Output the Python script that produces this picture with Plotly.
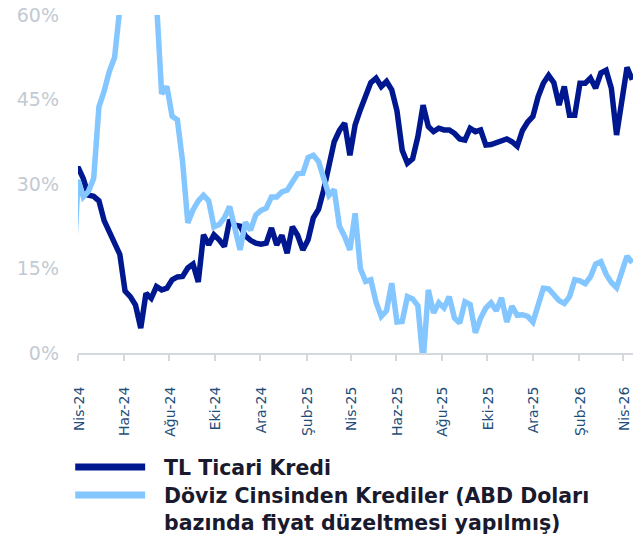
import pandas as pd
import plotly.graph_objects as go

# ---------------- data ----------------
start_date = "2024-03-25"
n_weeks = 108

tl_ticari = [
    31.0, 33.0, 31.0, 28.0, 27.8, 27.0, 23.5, 21.5, 19.8, 17.5,
    11.0, 10.0, 8.5, 4.4, 10.6, 9.7, 11.8, 11.2, 11.5, 13.0,
    13.5, 13.6, 15.1, 15.8, 12.6, 21.0, 19.2, 21.0, 20.1, 18.9,
    23.6, 22.7, 22.5, 20.8, 20.0, 19.5, 19.3, 19.5, 22.2, 19.2,
    20.9, 17.7, 22.4, 20.9, 18.3, 20.1, 24.0, 25.5, 29.0, 33.5,
    37.5, 39.5, 40.8, 35.1, 40.5, 43.2, 45.5, 48.0, 48.8, 47.3,
    48.2, 46.7, 43.0, 36.0, 33.7, 34.5, 38.4, 44.0, 40.2, 39.3,
    39.9, 39.6, 39.6, 39.0, 38.0, 37.8, 39.9, 39.3, 39.6, 36.9,
    37.0, 37.3, 37.8, 38.0, 37.5, 36.7, 39.5, 41.0, 42.0, 45.5,
    47.9, 49.3, 48.0, 44.0, 47.3, 42.2, 42.2, 47.9, 47.9, 48.8,
    47.0, 49.7, 50.2, 47.0, 38.7, 44.9, 50.7, 48.5,
]

doviz_krediler = [
    12.0, 30.7, 27.7, 28.7, 31.0, 43.7, 46.5, 50.0, 52.5, 64.0,
    70.0, 75.0, 78.0, 79.0, 76.0, 72.0, 62.5, 46.0, 47.3, 42.0,
    41.4, 34.0, 23.1, 25.4, 27.0, 28.0, 27.0, 22.4, 22.8, 24.0,
    26.0, 22.0, 18.3, 23.2, 21.8, 24.5, 25.3, 25.7, 27.7, 27.7,
    28.6, 28.9, 30.2, 31.8, 31.9, 34.7, 35.1, 34.0, 31.0, 28.0,
    29.0, 22.5, 20.7, 18.3, 24.8, 15.0, 12.7, 13.0, 9.0, 6.5,
    7.5, 12.4, 5.5, 5.6, 10.0, 9.6, 8.4, -1.5, 11.2, 7.1,
    8.9, 8.0, 10.0, 6.2, 5.3, 9.1, 8.6, 3.6, 6.2, 8.0,
    8.9, 7.5, 9.8, 5.5, 8.3, 6.7, 6.8, 6.5, 5.5, 8.5,
    11.5, 11.4, 10.3, 9.3, 8.8, 10.0, 13.0, 12.8, 12.3, 13.5,
    15.8, 16.2, 14.0, 12.5, 11.6, 14.8, 17.2, 16.0,
]

series_names = [
    "TL Ticari Kredi",
    "Döviz Cinsinden Krediler (ABD Doları bazında fiyat düzeltmesi yapılmış)",
]
legend_labels = [
    "TL Ticari Kredi",
    "Döviz Cinsinden Krediler (ABD Doları<br>bazında fiyat düzeltmesi yapılmış)",
]

tick_dates = [
    "2024-04-01", "2024-06-01", "2024-08-01", "2024-10-01", "2024-12-01",
    "2025-02-01", "2025-04-01", "2025-06-01", "2025-08-01", "2025-10-01",
    "2025-12-01", "2026-02-01", "2026-04-01",
]
tick_labels = [
    "Nis-24", "Haz-24", "Ağu-24", "Eki-24", "Ara-24", "Şub-25", "Nis-25",
    "Haz-25", "Ağu-25", "Eki-25", "Ara-25", "Şub-26", "Nis-26",
]
y_ticks = [0, 15, 30, 45, 60]
y_tick_labels = ["0%", "15%", "30%", "45%", "60%"]

# ---------------- styling ----------------
dark_color = "#00188F"
light_color = "#84C6FF"
font_family = "DejaVu Sans"

dates = pd.date_range(start=start_date, periods=n_weeks, freq="7D")

fig = go.Figure()
fig.add_trace(go.Scatter(
    x=dates, y=tl_ticari, mode="lines", name=series_names[0],
    line=dict(color=dark_color, width=5.5),
))
fig.add_trace(go.Scatter(
    x=dates, y=doviz_krediler, mode="lines", name=series_names[1],
    line=dict(color=light_color, width=5.5),
))

fig.update_layout(
    width=633, height=553,
    margin=dict(l=78, r=0, t=15, b=200),
    paper_bgcolor="white", plot_bgcolor="white",
    showlegend=False,
    font=dict(family=font_family),
)

fig.update_xaxes(
    type="date",
    range=["2024-04-01", "2026-04-14"],
    tickmode="array", tickvals=tick_dates, ticktext=tick_labels,
    tickangle=-90,
    tickfont=dict(family=font_family, size=14, color="#1F4E79"),
    showgrid=False, zeroline=False,
    showline=True, linecolor="#D3D8DF", linewidth=2,
    ticks="outside", ticklen=6, tickwidth=1.5, tickcolor="#D3D8DF",
    ticklabelshift=1, ticklabelstandoff=20,
    ticklabeloverflow="allow",
    automargin=False,
)
fig.update_yaxes(
    range=[0, 60],
    tickmode="array", tickvals=y_ticks, ticktext=y_tick_labels,
    tickfont=dict(family=font_family, size=19, color="#C3CAD3"),
    showgrid=False, zeroline=False, showline=False,
    ticklabelstandoff=18,
    ticklabeloverflow="allow",
    automargin=False,
)

# legend drawn manually (long line swatches)
legend_rows = [
    dict(color=dark_color, y=-0.337, text_y=-0.340, label=legend_labels[0]),
    dict(color=light_color, y=-0.420, text_y=-0.463, label=legend_labels[1]),
]
for row in legend_rows:
    fig.add_shape(
        type="line", xref="paper", yref="paper",
        x0=-0.005, x1=0.121, y0=row["y"], y1=row["y"],
        line=dict(color=row["color"], width=7),
    )
    fig.add_annotation(
        xref="paper", yref="paper", x=0.151, y=row["text_y"],
        xanchor="left", yanchor="middle", align="left",
        text=row["label"], showarrow=False,
        font=dict(family=font_family, size=20.5, color="#1A1A2E", weight="bold"),
    )

# remove the default 8px page margin so the figure fills the window exactly
fig.write_html(
    "out.html",
    config={"displayModeBar": False},
    post_script="document.body.style.margin='0px';document.body.style.overflow='hidden';",
)
